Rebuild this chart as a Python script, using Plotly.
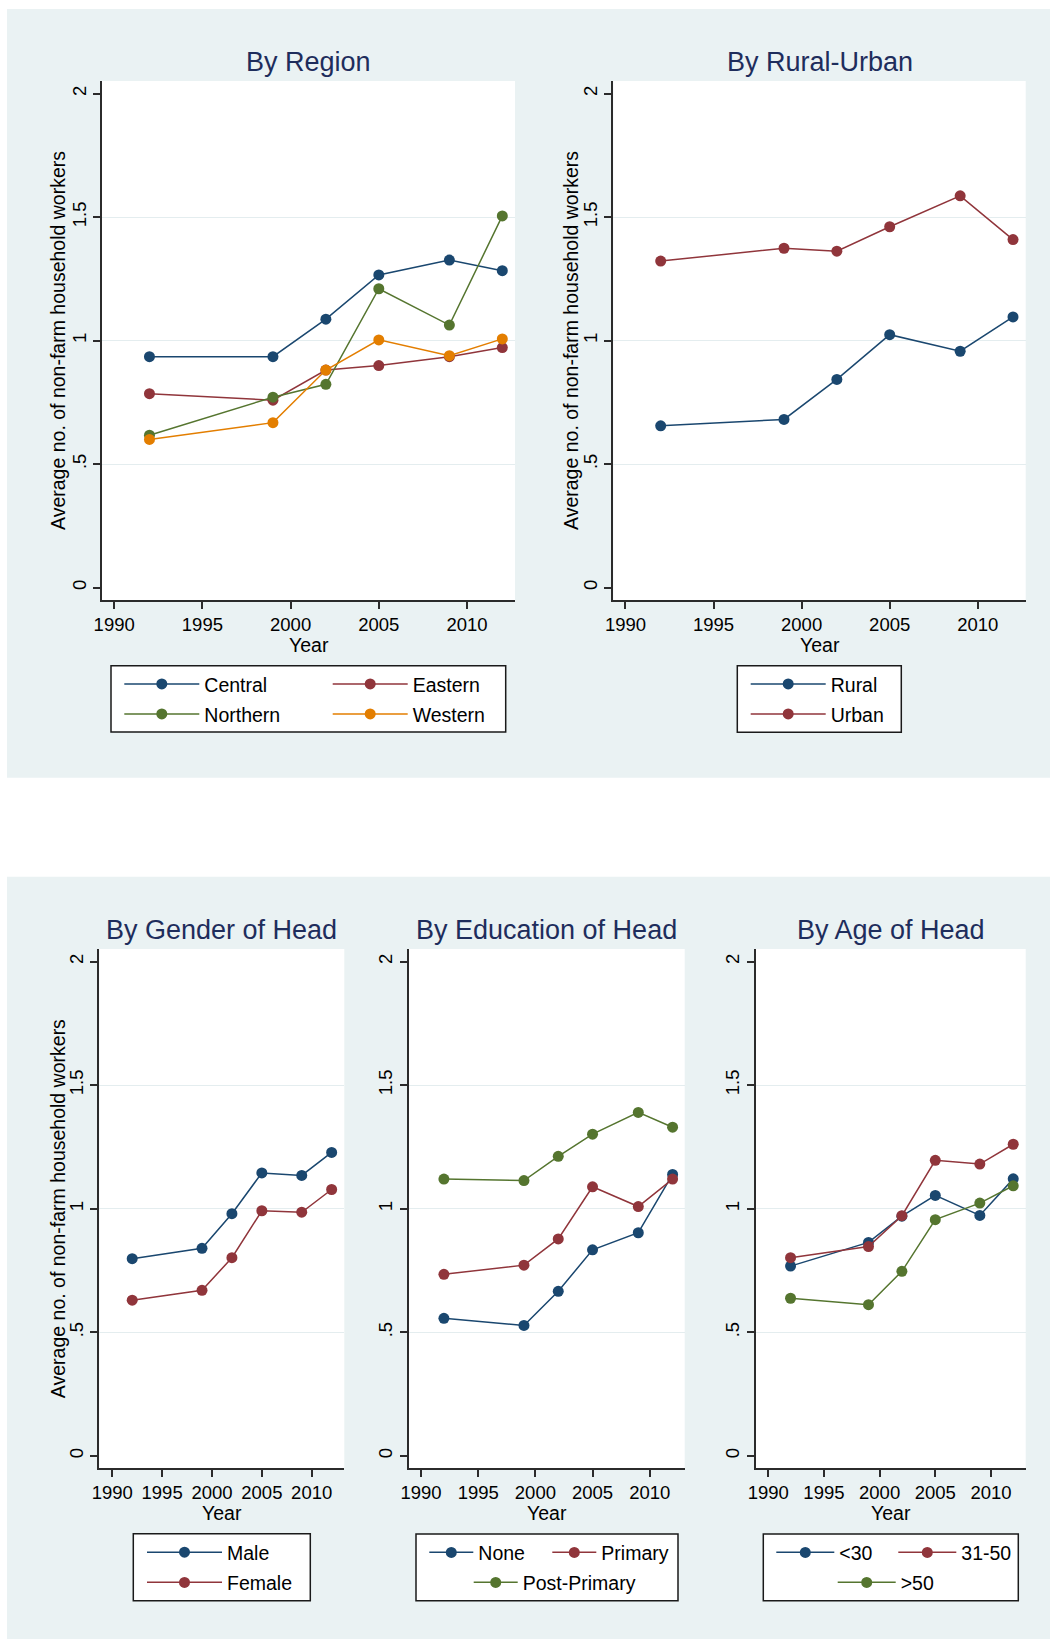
import plotly.graph_objects as go

W, H = 1050, 1639

# Survey years and the y axis of every panel
years = [1992, 1999, 2002, 2005, 2009, 2012]
x_ticks = [1990, 1995, 2000, 2005, 2010]
y_ticks = [0, 0.5, 1, 1.5, 2]
y_tick_text = ["0", ".5", "1", "1.5", "2"]
grid_vals = [0.5, 1, 1.5]

# By region
central = [0.935, 0.935, 1.087, 1.266, 1.326, 1.283]
eastern = [0.785, 0.759, 0.881, 0.899, 0.935, 0.972]
northern = [0.617, 0.771, 0.823, 1.210, 1.063, 1.505]
western = [0.600, 0.668, 0.881, 1.003, 0.939, 1.007]
# By rural-urban
rural = [0.655, 0.681, 0.843, 1.024, 0.957, 1.096]
urban = [1.322, 1.374, 1.362, 1.461, 1.586, 1.409]
# By gender of head
male = [0.798, 0.840, 0.980, 1.145, 1.135, 1.228]
female = [0.630, 0.670, 0.802, 0.992, 0.986, 1.078]
# By education of head
edu_none = [0.557, 0.528, 0.666, 0.834, 0.903, 1.139]
edu_primary = [0.735, 0.772, 0.878, 1.089, 1.009, 1.120]
edu_post = [1.120, 1.114, 1.212, 1.302, 1.390, 1.330]
# By age of head
age_lt30 = [0.768, 0.864, 0.970, 1.054, 0.973, 1.121]
age_31_50 = [0.802, 0.847, 0.972, 1.196, 1.181, 1.261]
age_gt50 = [0.638, 0.612, 0.747, 0.956, 1.023, 1.093]

NAVY, MAROON, GREEN, ORANGE = "#1a476f", "#90353b", "#55752f", "#e37e00"
BG = "#eaf2f3"
TITLE_COLOR = "#1e2d5c"
FONT = "Liberation Sans, Arial, sans-serif"
YTITLE = "Average no. of non-farm household workers"


def fx(px):
    return px / W


def fy(px):
    return 1 - px / H


# panel layout in pixels: plot box, x range, legend box, legend items (line start x, row y)
panels = [
    dict(title="By Region", xd=(102, 515), yd=(81, 600), xr=[1989.31, 2012.72],
         ytitle_x=57.5, title_y=62, year_y=645, itemwidth=75,
         box=(111, 665.7, 505.7, 732),
         series=[("Central", central, NAVY, (119.3, 684.3)),
                 ("Eastern", eastern, MAROON, (327.7, 684.3)),
                 ("Northern", northern, GREEN, (119.3, 714.3)),
                 ("Western", western, ORANGE, (327.7, 714.3))]),
    dict(title="By Rural-Urban", xd=(613.3, 1025.7), yd=(81, 600), xr=[1989.31, 2012.72],
         ytitle_x=570.5, title_y=62, year_y=645, itemwidth=75,
         box=(737.3, 665.7, 901.3, 732.3),
         series=[("Rural", rural, NAVY, (745.7, 684.3)),
                 ("Urban", urban, MAROON, (745.7, 714.3))]),
    dict(title="By Gender of Head", xd=(99.3, 344.3), yd=(949, 1468.3), xr=[1988.70, 2013.27],
         ytitle_x=57.5, title_y=930, year_y=1512.5, itemwidth=75,
         box=(133.3, 1533.7, 310.3, 1600.7),
         series=[("Male", male, NAVY, (142, 1552.5)),
                 ("Female", female, MAROON, (142, 1582.7))]),
    dict(title="By Education of Head", xd=(408.7, 684.7), yd=(949, 1468.3), xr=[1988.92, 2013.06],
         ytitle_x=None, title_y=930, year_y=1512.5, itemwidth=44,
         box=(416, 1534, 678, 1600.7),
         series=[("None", edu_none, NAVY, (424.3, 1552.7)),
                 ("Primary", edu_primary, MAROON, (547.3, 1552.7)),
                 ("Post-Primary", edu_post, GREEN, (468.7, 1582.7))]),
    dict(title="By Age of Head", xd=(755.7, 1025.7), yd=(949, 1468.3), xr=[1988.87, 2013.12],
         ytitle_x=None, title_y=930, year_y=1512.5, itemwidth=58,
         box=(763.3, 1534, 1018.3, 1600.7),
         series=[("<30", age_lt30, NAVY, (771.3, 1552.7)),
                 ("31-50", age_31_50, MAROON, (893.3, 1552.7)),
                 (">50", age_gt50, GREEN, (832.7, 1582.7))]),
]

fig = go.Figure()
layout = {}
shapes = [
    # light bluish background of the two graph groups
    dict(type="rect", xref="paper", yref="paper", layer="below", line_width=0, fillcolor=BG,
         x0=fx(7), x1=1, y0=fy(777.7), y1=fy(9)),
    dict(type="rect", xref="paper", yref="paper", layer="below", line_width=0, fillcolor=BG,
         x0=fx(7), x1=1, y0=0, y1=fy(876.7)),
]
annotations = []
legend_n = 0

axis_style = dict(showline=True, linecolor="#2b2b2b", linewidth=1.8, ticks="outside",
                  ticklen=7, tickwidth=1.5, tickcolor="#2b2b2b", zeroline=False,
                  showgrid=False, automargin=False,
                  tickfont=dict(family=FONT, size=18.5, color="black"))

for i, p in enumerate(panels):
    n = "" if i == 0 else str(i + 1)
    xa, ya = "x" + n, "y" + n
    x0, x1 = p["xd"]
    y0, y1 = p["yd"]
    layout["xaxis" + n] = dict(axis_style, domain=[fx(x0), fx(x1)], range=p["xr"], anchor=ya,
                               tickmode="array", tickvals=x_ticks)
    layout["yaxis" + n] = dict(axis_style, domain=[fy(y1), fy(y0)], range=[-0.05, 2.051],
                               anchor=xa, tickmode="array", tickvals=y_ticks,
                               ticktext=y_tick_text, tickangle=-90,
                               minor=dict(tickvals=grid_vals, showgrid=True, gridcolor="#e4edef",
                                          gridwidth=1.2, ticks=""))
    # white plot region
    shapes.append(dict(type="rect", xref="paper", yref="paper", layer="below", line_width=0,
                       fillcolor="white", x0=fx(x0), x1=fx(x1), y0=fy(y1), y1=fy(y0)))
    # legend frame
    bx0, by0, bx1, by1 = p["box"]
    shapes.append(dict(type="rect", xref="paper", yref="paper", layer="below",
                       line=dict(color="#1a1a1a", width=1.5), fillcolor="white",
                       x0=fx(bx0), x1=fx(bx1), y0=fy(by1), y1=fy(by0)))

    annotations.append(dict(text=p["title"], xref="paper", yref="paper", showarrow=False,
                            x=fx((x0 + x1) / 2), y=fy(p["title_y"]), xanchor="center",
                            yanchor="middle", font=dict(family=FONT, size=27, color=TITLE_COLOR)))
    annotations.append(dict(text="Year", xref="paper", yref="paper", showarrow=False,
                            x=fx((x0 + x1) / 2), y=fy(p["year_y"]), xanchor="center",
                            yanchor="middle", font=dict(family=FONT, size=19.5, color="black")))
    if p["ytitle_x"] is not None:
        annotations.append(dict(text=YTITLE, xref="paper", yref="paper", showarrow=False,
                                x=fx(p["ytitle_x"]), y=fy((y0 + y1) / 2), textangle=-90,
                                xanchor="center", yanchor="middle",
                                font=dict(family=FONT, size=19.5, color="black")))

    for name, vals, color, (lx, ly) in p["series"]:
        legend_n += 1
        lg = "legend" if legend_n == 1 else "legend" + str(legend_n)
        fig.add_trace(go.Scatter(
            x=years, y=vals, name=name, xaxis=xa, yaxis=ya, legend=lg,
            mode="lines+markers", line=dict(color=color, width=1.5),
            marker=dict(color=color, size=11, line=dict(width=0)),
            hoverinfo="skip"))
        layout[lg] = dict(x=fx(lx), y=fy(ly), xanchor="left", yanchor="middle",
                          bgcolor="rgba(0,0,0,0)", borderwidth=0, orientation="v",
                          itemwidth=p["itemwidth"],
                          font=dict(family=FONT, size=19.5, color="black"))

fig.update_layout(
    width=W, height=H,
    margin=dict(l=0, r=0, t=0, b=0, pad=0, autoexpand=False),
    paper_bgcolor="white",
    plot_bgcolor="rgba(0,0,0,0)",
    showlegend=True,
    shapes=shapes,
    annotations=annotations,
    font=dict(family=FONT),
    **layout,
)

# pin the figure to the window's top-left corner (no page margin, no scrollbars)
page_fix = """
document.documentElement.style.overflow = 'hidden';
document.body.style.margin = '0px';
document.body.style.padding = '0px';
document.body.style.overflow = 'hidden';
"""
fig.write_html("out.html", config={"displayModeBar": False}, post_script=page_fix)
